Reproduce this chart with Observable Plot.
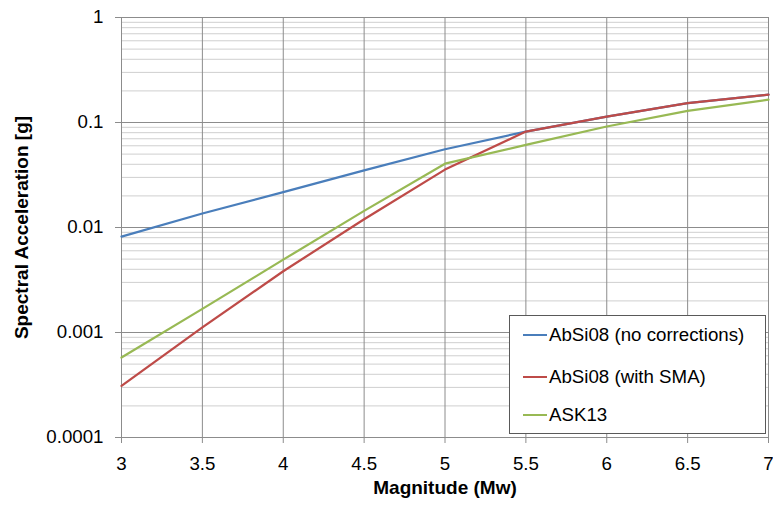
<!DOCTYPE html>
<html>
<head>
<meta charset="utf-8">
<script src="https://cdn.jsdelivr.net/npm/d3@7"></script>
<script src="https://cdn.jsdelivr.net/npm/@observablehq/plot@0.6"></script>
<style>
  body { margin: 0; background: #fff; }
  #chart { position: relative; width: 773px; height: 505px; font-family: "Liberation Sans", Arial, sans-serif; }
  #legend { position: absolute; left: 509px; top: 315px; width: 257px; height: 119px; box-sizing: border-box;
            border: 1px solid #595959; background: #fff; }
  .item { position: absolute; left: 13px; height: 22px; display: flex; align-items: center;
          font-size: 18.7px; color: #000; white-space: nowrap; }
  .swatch { width: 24px; height: 0; border-top: 2.25px solid; margin-right: 2px; }
</style>
</head>
<body>
<div id="chart"></div>
<script>
// Magnitude values at which each model was evaluated
const magnitudes = [3, 3.5, 4, 4.5, 5, 5.5, 6, 6.5, 7];

// Spectral acceleration [g] per model
const abSi08NoCorrections = [0.0082, 0.0136, 0.0217, 0.035, 0.0556, 0.082, 0.114, 0.153, 0.184];
const abSi08WithSMA       = [0.00031, 0.00112, 0.00383, 0.012, 0.0356, 0.082, 0.114, 0.153, 0.184];
const ask13               = [0.000577, 0.00168, 0.00494, 0.0144, 0.0405, 0.0612, 0.0916, 0.129, 0.165];

const seriesNames  = ["AbSi08 (no corrections)", "AbSi08 (with SMA)", "ASK13"];
const seriesColors = ["#4a7ebb", "#be4b48", "#98b954"];
const seriesValues = [abSi08NoCorrections, abSi08WithSMA, ask13];

// Axis ticks
const xTicks = [3, 3.5, 4, 4.5, 5, 5.5, 6, 6.5, 7];
const yTicks = [0.0001, 0.001, 0.01, 0.1, 1];
const yTickLabels = ["0.0001", "0.001", "0.01", "0.1", "1"];

const xTitle = "Magnitude (Mw)";
const yTitle = "Spectral Acceleration [g]";

// Minor log gridlines: 2..9 within each decade
const minorY = [];
for (const base of yTicks.slice(0, -1)) for (let k = 2; k <= 9; k++) minorY.push(base * k);

const rows = seriesNames.flatMap((name, s) =>
  magnitudes.map((m, i) => ({series: name, m, v: seriesValues[s][i]})));

const font = '"Liberation Sans", Arial, sans-serif';
const labelOf = new Map(yTicks.map((t, i) => [t, yTickLabels[i]]));

const plot = Plot.plot({
  width: 773,
  height: 505,
  marginLeft: 121,
  marginRight: 5,
  marginTop: 17,
  marginBottom: 68,
  style: {fontFamily: font, fontSize: "18.7px", color: "#000", background: "#fff"},
  x: {domain: [3, 7]},
  y: {type: "log", domain: [0.0001, 1]},
  marks: [
    Plot.ruleY(minorY, {stroke: "#cfcfcf", strokeWidth: 1}),
    Plot.ruleY(yTicks, {stroke: "#8c8c8c", strokeWidth: 1}),
    Plot.ruleX(xTicks, {stroke: "#8c8c8c", strokeWidth: 1}),
    Plot.axisY({ticks: yTicks, tickFormat: d => labelOf.get(d), tickSize: 6, tickPadding: 12,
                stroke: "#8c8c8c", fill: "#000", fontSize: 18.7, label: null}),
    Plot.axisX({ticks: xTicks, tickFormat: d => String(d), tickSize: 6, tickPadding: 13,
                stroke: "#8c8c8c", fill: "#000", fontSize: 18.7, label: null}),
    ...seriesNames.map((name, s) =>
      Plot.line(rows.filter(r => r.series === name),
        {x: "m", y: "v", stroke: seriesColors[s], strokeWidth: 2.25, strokeLinejoin: "round"})),
    Plot.text([xTitle], {frameAnchor: "bottom", dy: 50, text: d => d, fontWeight: "bold",
                         fontSize: 19, textAnchor: "middle", lineAnchor: "middle", fill: "#000"}),
    Plot.text([yTitle], {frameAnchor: "left", dx: -100, rotate: -90, text: d => d, fontWeight: "bold",
                         fontSize: 19, textAnchor: "middle", lineAnchor: "middle", fill: "#000"})
  ]
});

const chart = document.getElementById("chart");
chart.appendChild(plot);

// Legend box inside the plot area
const legend = document.createElement("div");
legend.id = "legend";
const rowTops = [8, 50, 88];
seriesNames.forEach((name, s) => {
  const item = document.createElement("div");
  item.className = "item";
  item.style.top = rowTops[s] + "px";
  const sw = document.createElement("span");
  sw.className = "swatch";
  sw.style.borderTopColor = seriesColors[s];
  const label = document.createElement("span");
  label.textContent = name;
  item.appendChild(sw);
  item.appendChild(label);
  legend.appendChild(item);
});
chart.appendChild(legend);
</script>
</body>
</html>
